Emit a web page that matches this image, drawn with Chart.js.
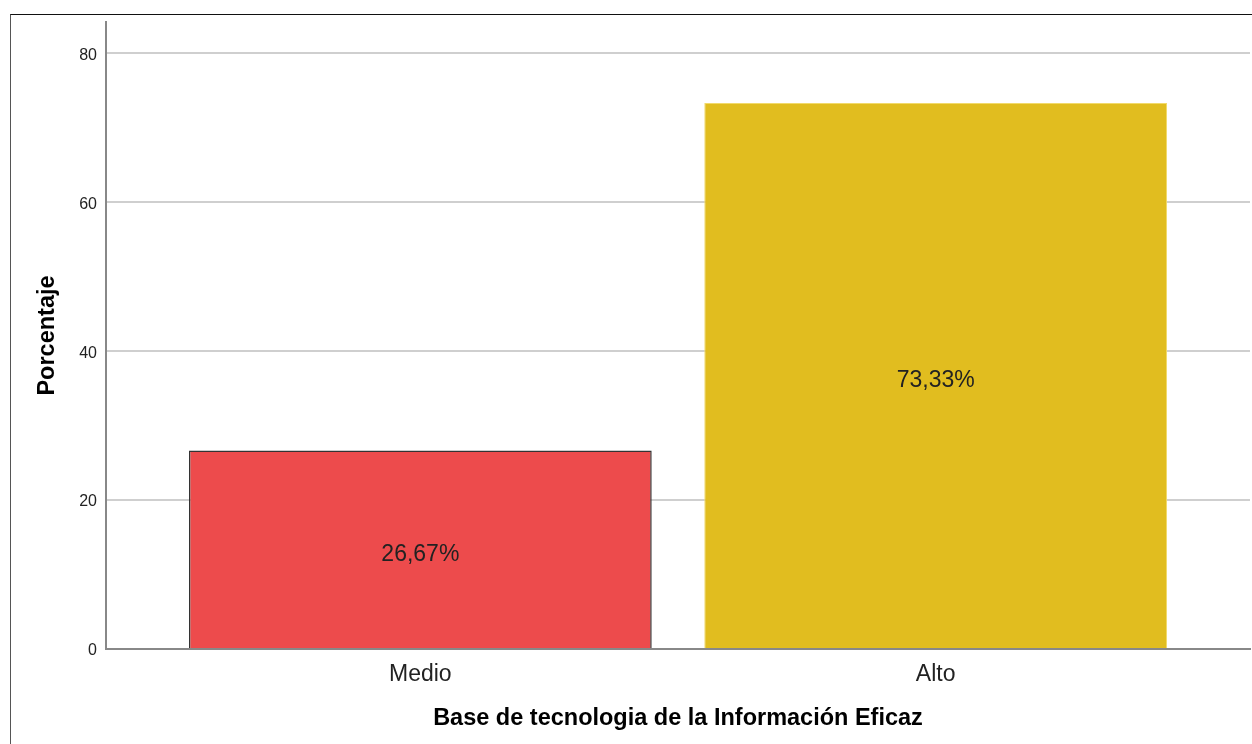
<!DOCTYPE html>
<html>
<head>
<meta charset="utf-8">
<script src="https://cdn.jsdelivr.net/npm/chart.js@4.4.1/dist/chart.umd.min.js"></script>
<style>
  html, body { margin: 0; padding: 0; background: #fff; }
  #wrap { position: relative; width: 1252px; height: 744px; overflow: hidden; }
  #frame {
    position: absolute; left: 10px; top: 14px; width: 1260px; height: 760px;
    border-left: 1px solid #555; border-top: 1px solid #111;
    pointer-events: none;
  }
</style>
</head>
<body>
<div id="wrap">
  <canvas id="bars"></canvas>
  <div id="frame"></div>
</div>
<script>
// categories and percentages
const categories = ["Medio", "Alto"];
const percents = [26.67, 73.33];
const barColors = ["#ed4b4c", "#e1bd1f"];
const barBorders = ["#333333", "#f2da6a"];
const yTicks = [0, 20, 40, 60, 80];

const FONT = "'Liberation Sans', Arial, sans-serif";

// writes the percentage in the middle of every bar
const barLabels = {
  id: "barLabels",
  afterDatasetsDraw(chart) {
    const ctx = chart.ctx;
    const meta = chart.getDatasetMeta(0);
    ctx.save();
    ctx.font = "23px " + FONT;
    ctx.fillStyle = "#222";
    ctx.textAlign = "center";
    ctx.textBaseline = "middle";
    meta.data.forEach((bar, i) => {
      const txt = percents[i].toFixed(2).replace(".", ",") + "%";
      ctx.fillText(txt, bar.x, (bar.y + bar.base) / 2 + 5);
    });
    ctx.restore();
  }
};

const points = categories.map((c, i) => ({ x: i, y: percents[i] }));

new Chart(document.getElementById("bars"), {
  type: "bar",
  plugins: [barLabels],
  data: {
    datasets: [{
      data: points,
      backgroundColor: barColors,
      borderColor: barBorders,
      borderWidth: [1.5, 1],
      barPercentage: 0.898,
      categoryPercentage: 1
    }]
  },
  options: {
    responsive: true,
    maintainAspectRatio: false,
    animation: false,
    layout: { padding: { top: 22, right: 2, left: 0, bottom: 0 } },
    plugins: { legend: { display: false }, tooltip: { enabled: false } },
    scales: {
      x: {
        type: "linear",
        offset: false,
        min: -0.61,
        max: 1.61,
        afterBuildTicks: (s) => { s.ticks = categories.map((c, i) => ({ value: i })); },
        afterFit: (s) => { s.height = 95; },
        grid: { display: false, drawTicks: false, offset: false },
        border: { color: "#888", width: 2 },
        ticks: {
          padding: 12,
          color: "#222",
          font: { family: FONT, size: 23 },
          callback: (v) => categories[v]
        },
        title: {
          display: true,
          text: "Base de tecnologia de la Información Eficaz",
          color: "#000",
          font: { family: FONT, size: 23.5, weight: "bold" },
          padding: { top: 0, bottom: 11 }
        }
      },
      y: {
        min: 0,
        max: 84.2,
        afterBuildTicks: (s) => { s.ticks = yTicks.map(v => ({ value: v })); },
        afterFit: (s) => { s.width = 106; },
        grid: { color: "#cfcfcf", lineWidth: 2, drawTicks: false },
        border: { color: "#888", width: 2 },
        ticks: {
          padding: 9,
          labelOffset: 2,
          color: "#222",
          font: { family: FONT, size: 16 }
        },
        title: {
          display: true,
          text: "Porcentaje",
          color: "#000",
          font: { family: FONT, size: 23.5, weight: "bold" },
          padding: { top: 33, bottom: 0 }
        }
      }
    }
  }
});
</script>
</body>
</html>
